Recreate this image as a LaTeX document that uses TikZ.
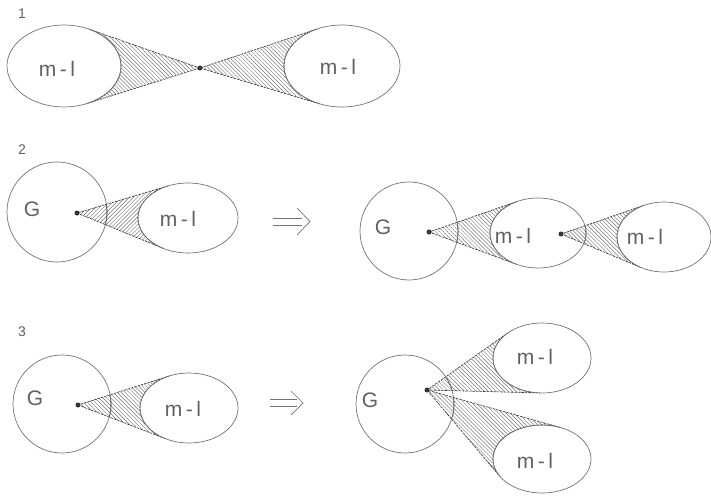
\documentclass[tikz,border=0pt]{standalone}
\usepackage{fontspec}
\setmainfont{Liberation Sans}
\usetikzlibrary{patterns,patterns.meta,shapes.geometric}
\definecolor{outl}{gray}{0.45}
\definecolor{hatchc}{gray}{0.45}
\definecolor{edgec}{gray}{0.2}
\definecolor{txtc}{gray}{0.38}
\tikzset{
 blob/.style={ellipse, draw=outl, line width=0.7pt, inner sep=0pt},
 gcirc/.style={circle, draw=outl, line width=0.7pt, inner sep=0pt},
 lbl/.style={text=txtc, font=\fontsize{21}{21}\selectfont, inner sep=0pt},
 num/.style={text=txtc, font=\fontsize{14}{14}\selectfont, inner sep=0pt},
 coneedge/.style={draw=edgec, line width=0.6pt, dash pattern=on 2.5pt off 1pt},
 hid/.style={draw=edgec, line width=0.8pt, dash pattern=on 2.5pt off 1pt},
 vertex/.style={circle, fill=edgec, inner sep=0pt, minimum size=5pt},
 impl/.style={draw=outl, line width=0.7pt},
}
\newcommand\ml{m\kern3.5pt-\kern3.5pt l}
% #1 hatch angle, #2 Px, #3 Py, #4 cx, #5 cy, #6 a, #7 b, #8 hidden outline path (or empty)
\newcommand\hcone[8]{%
 \pgfmathsetmacro\qx{(#2-#4)/#6}%
 \pgfmathsetmacro\qy{(#3-#5)/#7}%
 \pgfmathsetmacro\qd{sqrt(\qx*\qx+\qy*\qy)}%
 \pgfmathsetmacro\qt{atan2(\qy,\qx)}%
 \pgfmathsetmacro\qdel{acos(1/\qd)}%
 \pgfmathsetmacro\qs{\qt-\qdel}%
 \pgfmathsetmacro\qe{\qt+\qdel}%
 \fill[pattern={Lines[angle=#1, distance=2.8pt, line width=0.45pt]}, pattern color=hatchc] (#2,#3) -- plot[domain=\qs:\qe, samples=50, variable=\ang] ({#4+#6*cos(\ang)},{#5+#7*sin(\ang)}) -- cycle;
 \if\relax\detokenize{#8}\relax\else
 \begin{scope}
  \clip (#2,#3) -- plot[domain=\qs:\qe, samples=50, variable=\ang] ({#4+#6*cos(\ang)},{#5+#7*sin(\ang)}) -- cycle;
  \draw[hid] #8;
 \end{scope}
 \fi
 \draw[coneedge] (#2,#3) -- plot[domain=\qs:\qe, samples=50, variable=\ang] ({#4+#6*cos(\ang)},{#5+#7*sin(\ang)}) -- cycle;
}
\begin{document}
\begin{tikzpicture}[x=1pt,y=-1pt]
\useasboundingbox (0,0) rectangle (711,497);

% ---------- row 1 ----------
\node[num] (n1) at (22,14) {1};
\hcone{-45}{200}{68}{64}{66}{57}{41}{}
\hcone{-45}{200}{68}{342}{66}{58}{41}{}
\node[blob, minimum width=114pt, minimum height=82pt] (e1a) at (64,66) {};
\node[blob, minimum width=116pt, minimum height=82pt] (e1b) at (342,66) {};
\node[lbl] (t1a) at (57,69) {\ml};
\node[lbl] (t1b) at (338,67) {\ml};
\node[vertex] (v1) at (200,68) {};

% ---------- row 2 ----------
\node[num] (n2) at (22,150) {2};
\hcone{45}{77}{213}{188}{218}{50}{35}{(57,212) circle[radius=50]}
\node[gcirc, minimum size=100pt] (g2a) at (57,212) {};
\node[blob, minimum width=100pt, minimum height=70pt] (e2a) at (188,218) {};
\node[lbl] (tg2a) at (32,209) {G};
\node[lbl] (t2a) at (178,219) {\ml};
\node[vertex] (v2a) at (77,213) {};

\coordinate (a2s1) at (273,218); \coordinate (a2e1) at (302,218);
\coordinate (a2s2) at (273,225); \coordinate (a2e2) at (302,225);
\coordinate (a2c1) at (297,208); \coordinate (a2t) at (310,221.5); \coordinate (a2c2) at (297,235);
\draw[impl] (a2s1) -- (a2e1);
\draw[impl] (a2s2) -- (a2e2);
\draw[impl] (a2c1) -- (a2t) -- (a2c2);

\hcone{-45}{429}{232}{538}{233}{48}{35}{(409,231) circle[radius=49]}
\hcone{-45}{561}{234}{664}{237}{47}{35}{(538,233) ellipse[x radius=48, y radius=35]}
\node[gcirc, minimum size=98pt] (g2b) at (409,231) {};
\node[blob, minimum width=96pt, minimum height=70pt] (e2b) at (538,233) {};
\node[blob, minimum width=94pt, minimum height=70pt] (e2c) at (664,237) {};
\node[lbl] (tg2b) at (383,227) {G};
\node[lbl] (t2b) at (513,236) {\ml};
\node[lbl] (t2c) at (645,237) {\ml};
\node[vertex] (v2b) at (429,232) {};
\node[vertex] (v2c) at (561,234) {};

% ---------- row 3 ----------
\node[num] (n3) at (22,332) {3};
\hcone{-45}{78}{405}{189}{408}{49}{35}{(62,404) circle[radius=49]}
\node[gcirc, minimum size=98pt] (g3a) at (62,404) {};
\node[blob, minimum width=98pt, minimum height=70pt] (e3a) at (189,408) {};
\node[lbl] (tg3a) at (35,398) {G};
\node[lbl] (t3a) at (183,409) {\ml};
\node[vertex] (v3a) at (78,405) {};

\coordinate (a3s1) at (270,399.5); \coordinate (a3e1) at (297,399.5);
\coordinate (a3s2) at (270,406.5); \coordinate (a3e2) at (297,406.5);
\coordinate (a3c1) at (291,391); \coordinate (a3t) at (303,403); \coordinate (a3c2) at (291,415);
\draw[impl] (a3s1) -- (a3e1);
\draw[impl] (a3s2) -- (a3e2);
\draw[impl] (a3c1) -- (a3t) -- (a3c2);

\hcone{-45}{427}{390}{542}{358}{49}{35}{(405,404) circle[radius=49]}
\hcone{-45}{427}{390}{542}{459}{49}{34}{(405,404) circle[radius=49]}
\node[gcirc, minimum size=98pt] (g3b) at (405,404) {};
\node[blob, minimum width=98pt, minimum height=70pt] (e3b) at (542,358) {};
\node[blob, minimum width=98pt, minimum height=68pt] (e3c) at (542,459) {};
\node[lbl] (tg3b) at (370,400) {G};
\node[lbl] (t3b) at (535,357) {\ml};
\node[lbl] (t3c) at (535,461) {\ml};
\node[vertex] (v3b) at (427,390) {};
\end{tikzpicture}
\end{document}
